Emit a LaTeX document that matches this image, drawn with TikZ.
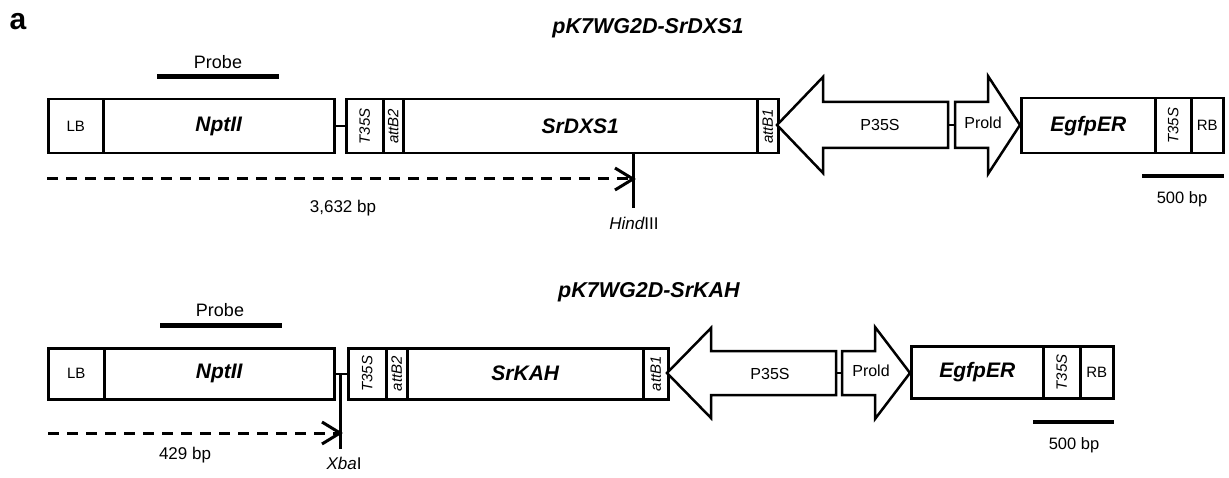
\documentclass[tikz,border=0pt]{standalone}
\usepackage{fontspec}
\setmainfont{Liberation Sans}
\usepackage{graphicx}
\usetikzlibrary{calc}
\newcommand\genebox[6]{\node[box, minimum width={#3pt-#2pt}, minimum height={#5pt-#4pt}] (#1) at (#2,#4) {#6};}
\newcommand\fs[1]{\fontsize{#1}{#1}\selectfont}
\tikzset{
  box/.style={draw, line width=2.5pt, inner sep=0pt, anchor=north west, align=center, fill=white},
  arrowline/.style={draw, line width=2.5pt, line join=miter, fill=white},
  conn/.style={line width=2pt},
  probebar/.style={line width=5pt},
  scalebar/.style={line width=3.5pt},
  dashline/.style={line width=3pt, dash pattern=on 11pt off 8pt},
  barb/.style={line width=3pt, solid, line join=miter},
  cutline/.style={line width=3pt},
  lbl/.style={inner sep=0pt, font=\fs{17}},
  title/.style={inner sep=0pt, font=\fs{21.5}\bfseries\itshape},
  plabel/.style={inner sep=0pt, font=\fs{16}},
}
\begin{document}
\begin{tikzpicture}[x=1pt,y=-1pt]
\useasboundingbox (0,0) rectangle (1229,478);
\node[inner sep=0pt, font=\fs{30}\bfseries] (a) at (18,22) {a};

% ---------------- Row 1 ----------------
\node[title] (t1) at (648,28) {pK7WG2D-SrDXS1};
\node[inner sep=0pt, font=\fs{18}] (pr1) at (218,62) {Probe};
\coordinate (pb1a) at (157,77); \coordinate (pb1b) at (279,77);
\draw[probebar] (pb1a) -- (pb1b);

\genebox{lb1}{47}{102}{98}{152}{\fs{15}LB}
\genebox{npt1}{102}{333}{98}{152}{\fs{21}\bfseries\itshape NptII}
\genebox{t35a}{345}{382}{98}{152}{\rotatebox{90}{\fs{15}\itshape T35S}}
\genebox{attb2a}{382}{402}{98}{152}{\rotatebox{90}{\fs{15}\itshape attB2}}
\genebox{gene1}{402}{756}{98}{152}{\fs{21}\bfseries\itshape SrDXS1}
\genebox{attb1a}{756}{777}{98}{152}{\rotatebox{90}{\fs{15}\itshape attB1}}
\draw[conn] (npt1.east) -- (t35a.west);

\draw[arrowline] (777,125) -- (823,77) -- (823,102) -- (948,102) -- (948,148) -- (823,148) -- (823,173) -- cycle;
\node[plabel] (p35a) at (880,125) {P35S};
\draw[arrowline] (955,102) -- (988,102) -- (988,76) -- (1020,125) -- (988,174) -- (988,148) -- (955,148) -- cycle;
\node[plabel] (prold1) at (983,123) {Prold};
\coordinate (c1a) at (948,125); \coordinate (c1b) at (955,125);
\draw[conn] (c1a) -- (c1b);

\genebox{egfp1}{1020}{1154}{97}{152}{\fs{21}\bfseries\itshape EgfpER}
\genebox{t35b}{1154}{1190}{97}{152}{\rotatebox{90}{\fs{15}\itshape T35S}}
\genebox{rb1}{1190}{1222}{97}{152}{\fs{15}RB}

\coordinate (sb1a) at (1142,176); \coordinate (sb1b) at (1224,176);
\draw[scalebar] (sb1a) -- (sb1b);
\node[lbl, font=\fs{16.5}] (sbl1) at (1182,199) {500 bp};

\coordinate (h1top) at (633,152); \coordinate (h1) at (633,179); \coordinate (h1bot) at (633,208);
\coordinate (d1) at (47,179);
\draw[cutline] (h1top) -- (h1bot);
\draw[dashline] (d1) -- (h1);
\draw[barb] ($(h1)+(-18,-11)$) -- (h1) -- ($(h1)+(-18,11)$);
\node[lbl] (bp1) at (343,208) {3,632 bp};
\node[lbl] (hind) at (634,223) {\itshape Hind\upshape III};

% ---------------- Row 2 ----------------
\node[title] (t2) at (649,292) {pK7WG2D-SrKAH};
\node[inner sep=0pt, font=\fs{18}] (pr2) at (220,310) {Probe};
\coordinate (pb2a) at (160,326); \coordinate (pb2b) at (282,326);
\draw[probebar] (pb2a) -- (pb2b);

\genebox{lb2}{47}{103}{347}{398}{\fs{15}LB}
\genebox{npt2}{103}{333}{347}{398}{\fs{21}\bfseries\itshape NptII}
\genebox{t35c}{347}{385}{347}{398}{\rotatebox{90}{\fs{15}\itshape T35S}}
\genebox{attb2b}{385}{406}{347}{398}{\rotatebox{90}{\fs{15}\itshape attB2}}
\genebox{gene2}{406}{642}{347}{398}{\fs{21}\bfseries\itshape SrKAH}
\genebox{attb1b}{642}{667}{347}{398}{\rotatebox{90}{\fs{15}\itshape attB1}}
\draw[conn] (npt2.east) -- (t35c.west);

\draw[arrowline] (667,373) -- (711,328) -- (711,351) -- (836,351) -- (836,395) -- (711,395) -- (711,418) -- cycle;
\node[plabel] (p35b) at (770,374) {P35S};
\draw[arrowline] (842,351) -- (875,351) -- (875,327) -- (910,373) -- (875,419) -- (875,395) -- (842,395) -- cycle;
\node[plabel] (prold2) at (871,371) {Prold};
\coordinate (c2a) at (836,373); \coordinate (c2b) at (842,373);
\draw[conn] (c2a) -- (c2b);

\genebox{egfp2}{910}{1042}{345}{397}{\fs{21}\bfseries\itshape EgfpER}
\genebox{t35d}{1042}{1079}{345}{397}{\rotatebox{90}{\fs{15}\itshape T35S}}
\genebox{rb2}{1079}{1112}{345}{397}{\fs{15}RB}

\coordinate (sb2a) at (1033,422); \coordinate (sb2b) at (1114,422);
\draw[scalebar] (sb2a) -- (sb2b);
\node[lbl, font=\fs{16.5}] (sbl2) at (1074,445) {500 bp};

\coordinate (x1top) at (340,373); \coordinate (x1) at (340,433); \coordinate (x1bot) at (340,449);
\coordinate (d2) at (48,433);
\draw[cutline] (x1top) -- (x1bot);
\draw[dashline] (d2) -- (x1);
\draw[barb] ($(x1)+(-18,-11)$) -- (x1) -- ($(x1)+(-18,11)$);
\node[lbl] (bp2) at (185,455) {429 bp};
\node[lbl] (xba) at (344,463) {\itshape Xba\upshape I};
\end{tikzpicture}
\end{document}
